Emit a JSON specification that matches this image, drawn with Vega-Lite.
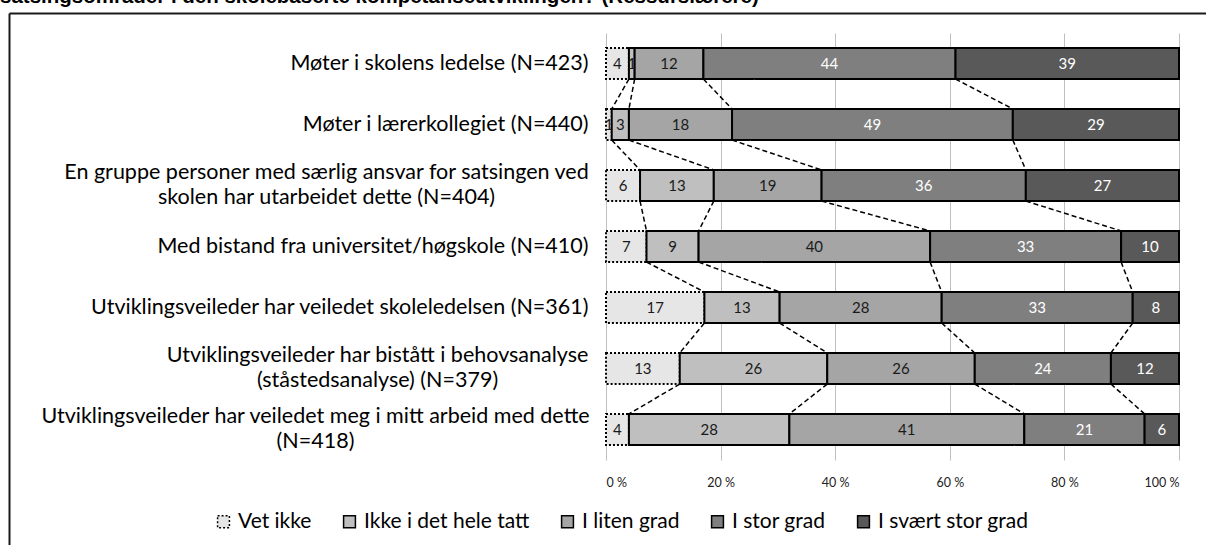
{
  "$schema": "https://vega.github.io/schema/vega-lite/v6.json",
  "autosize": {"type": "none"},
  "width": 573,
  "height": 427,
  "padding": {"left": 606, "top": 33, "right": 27, "bottom": 85},
  "background": "white",
  "title": {
    "text": "satsingsområder i den skolebaserte kompetanseutviklingen? (Ressurslærere)",
    "anchor": "start",
    "frame": "group",
    "dx": -606,
    "offset": 3,
    "font": "Liberation Sans",
    "fontSize": 20.5,
    "fontWeight": "bold",
    "color": "black"
  },
  "config": {
    "view": {"stroke": null},
    "font": "Lato"
  },
  "data": {
    "values": [
      {"question": "Møter i skolens ledelse (N=423)", "qi": 0, "category": "Vet ikke", "ci": 0, "value": 4},
      {"question": "Møter i skolens ledelse (N=423)", "qi": 0, "category": "Ikke i det hele tatt", "ci": 1, "value": 1},
      {"question": "Møter i skolens ledelse (N=423)", "qi": 0, "category": "I liten grad", "ci": 2, "value": 12},
      {"question": "Møter i skolens ledelse (N=423)", "qi": 0, "category": "I stor grad", "ci": 3, "value": 44},
      {"question": "Møter i skolens ledelse (N=423)", "qi": 0, "category": "I svært stor grad", "ci": 4, "value": 39},
      {"question": "Møter i lærerkollegiet (N=440)", "qi": 1, "category": "Vet ikke", "ci": 0, "value": 1},
      {"question": "Møter i lærerkollegiet (N=440)", "qi": 1, "category": "Ikke i det hele tatt", "ci": 1, "value": 3},
      {"question": "Møter i lærerkollegiet (N=440)", "qi": 1, "category": "I liten grad", "ci": 2, "value": 18},
      {"question": "Møter i lærerkollegiet (N=440)", "qi": 1, "category": "I stor grad", "ci": 3, "value": 49},
      {"question": "Møter i lærerkollegiet (N=440)", "qi": 1, "category": "I svært stor grad", "ci": 4, "value": 29},
      {"question": "En gruppe personer med særlig ansvar for satsingen ved\nskolen har utarbeidet dette (N=404)", "qi": 2, "category": "Vet ikke", "ci": 0, "value": 6},
      {"question": "En gruppe personer med særlig ansvar for satsingen ved\nskolen har utarbeidet dette (N=404)", "qi": 2, "category": "Ikke i det hele tatt", "ci": 1, "value": 13},
      {"question": "En gruppe personer med særlig ansvar for satsingen ved\nskolen har utarbeidet dette (N=404)", "qi": 2, "category": "I liten grad", "ci": 2, "value": 19},
      {"question": "En gruppe personer med særlig ansvar for satsingen ved\nskolen har utarbeidet dette (N=404)", "qi": 2, "category": "I stor grad", "ci": 3, "value": 36},
      {"question": "En gruppe personer med særlig ansvar for satsingen ved\nskolen har utarbeidet dette (N=404)", "qi": 2, "category": "I svært stor grad", "ci": 4, "value": 27},
      {"question": "Med bistand fra universitet/høgskole (N=410)", "qi": 3, "category": "Vet ikke", "ci": 0, "value": 7},
      {"question": "Med bistand fra universitet/høgskole (N=410)", "qi": 3, "category": "Ikke i det hele tatt", "ci": 1, "value": 9},
      {"question": "Med bistand fra universitet/høgskole (N=410)", "qi": 3, "category": "I liten grad", "ci": 2, "value": 40},
      {"question": "Med bistand fra universitet/høgskole (N=410)", "qi": 3, "category": "I stor grad", "ci": 3, "value": 33},
      {"question": "Med bistand fra universitet/høgskole (N=410)", "qi": 3, "category": "I svært stor grad", "ci": 4, "value": 10},
      {"question": "Utviklingsveileder har veiledet skoleledelsen (N=361)", "qi": 4, "category": "Vet ikke", "ci": 0, "value": 17},
      {"question": "Utviklingsveileder har veiledet skoleledelsen (N=361)", "qi": 4, "category": "Ikke i det hele tatt", "ci": 1, "value": 13},
      {"question": "Utviklingsveileder har veiledet skoleledelsen (N=361)", "qi": 4, "category": "I liten grad", "ci": 2, "value": 28},
      {"question": "Utviklingsveileder har veiledet skoleledelsen (N=361)", "qi": 4, "category": "I stor grad", "ci": 3, "value": 33},
      {"question": "Utviklingsveileder har veiledet skoleledelsen (N=361)", "qi": 4, "category": "I svært stor grad", "ci": 4, "value": 8},
      {"question": "Utviklingsveileder har bistått i behovsanalyse\n(ståstedsanalyse) (N=379)", "qi": 5, "category": "Vet ikke", "ci": 0, "value": 13},
      {"question": "Utviklingsveileder har bistått i behovsanalyse\n(ståstedsanalyse) (N=379)", "qi": 5, "category": "Ikke i det hele tatt", "ci": 1, "value": 26},
      {"question": "Utviklingsveileder har bistått i behovsanalyse\n(ståstedsanalyse) (N=379)", "qi": 5, "category": "I liten grad", "ci": 2, "value": 26},
      {"question": "Utviklingsveileder har bistått i behovsanalyse\n(ståstedsanalyse) (N=379)", "qi": 5, "category": "I stor grad", "ci": 3, "value": 24},
      {"question": "Utviklingsveileder har bistått i behovsanalyse\n(ståstedsanalyse) (N=379)", "qi": 5, "category": "I svært stor grad", "ci": 4, "value": 12},
      {"question": "Utviklingsveileder har veiledet meg i mitt arbeid med dette\n(N=418)", "qi": 6, "category": "Vet ikke", "ci": 0, "value": 4},
      {"question": "Utviklingsveileder har veiledet meg i mitt arbeid med dette\n(N=418)", "qi": 6, "category": "Ikke i det hele tatt", "ci": 1, "value": 28},
      {"question": "Utviklingsveileder har veiledet meg i mitt arbeid med dette\n(N=418)", "qi": 6, "category": "I liten grad", "ci": 2, "value": 41},
      {"question": "Utviklingsveileder har veiledet meg i mitt arbeid med dette\n(N=418)", "qi": 6, "category": "I stor grad", "ci": 3, "value": 21},
      {"question": "Utviklingsveileder har veiledet meg i mitt arbeid med dette\n(N=418)", "qi": 6, "category": "I svært stor grad", "ci": 4, "value": 6}
    ]
  },
  "layer": [
    {
      "transform": [
        {"window": [{"op": "sum", "field": "value", "as": "cum"}], "groupby": ["question"], "sort": [{"field": "ci"}], "frame": [null, 0]},
        {"joinaggregate": [{"op": "sum", "field": "value", "as": "tot"}], "groupby": ["question"]},
        {"calculate": "(datum.cum - datum.value) / datum.tot", "as": "xs"},
        {"calculate": "datum.cum / datum.tot", "as": "xe"},
        {"calculate": "(datum.xs + datum.xe) / 2", "as": "xm"}
      ],
      "encoding": {
        "y": {
          "field": "question",
          "type": "nominal",
          "scale": {
            "type": "band",
            "domain": [
              "Møter i skolens ledelse (N=423)",
              "Møter i lærerkollegiet (N=440)",
              "En gruppe personer med særlig ansvar for satsingen ved\nskolen har utarbeidet dette (N=404)",
              "Med bistand fra universitet/høgskole (N=410)",
              "Utviklingsveileder har veiledet skoleledelsen (N=361)",
              "Utviklingsveileder har bistått i behovsanalyse\n(ståstedsanalyse) (N=379)",
              "Utviklingsveileder har veiledet meg i mitt arbeid med dette\n(N=418)"
            ],
            "paddingInner": 0.49,
            "paddingOuter": 0.245
          },
          "axis": {
            "title": null,
            "domain": false,
            "ticks": false,
            "grid": false,
            "labelExpr": "split(datum.label, '\\n')",
            "labelFont": "Lato",
            "labelFontSize": 21.5,
            "labelColor": "black",
            "labelLineHeight": 25,
            "labelLimit": 0,
            "labelBaseline": "middle",
            "labelAlign": {
              "condition": {"test": "indexof(datum.value, '\\n') >= 0", "value": "center"},
              "value": "right"
            },
            "labelOffset": {
              "condition": {"test": "indexof(datum.value, '\\n') >= 0", "value": -13},
              "value": 0
            },
            "labelPadding": {
              "condition": [
                {"test": "indexof(datum.value, 'En gruppe') >= 0", "value": 280},
                {"test": "indexof(datum.value, 'behovsanalyse') >= 0", "value": 229},
                {"test": "indexof(datum.value, 'mitt arbeid') >= 0", "value": 291}
              ],
              "value": 18
            }
          }
        }
      },
      "layer": [
        {
          "mark": {"type": "bar", "stroke": "black", "strokeWidth": 2},
          "encoding": {
            "x": {
              "field": "xs",
              "type": "quantitative",
              "scale": {"domain": [0, 1], "nice": false},
              "axis": {
                "title": null,
                "orient": "bottom",
                "values": [0, 0.2, 0.4, 0.6, 0.8, 1],
                "labelExpr": "round(datum.value * 100) + ' %'",
                "grid": true,
                "gridColor": "#bfbfbf",
                "gridWidth": 1,
                "domain": false,
                "ticks": false,
                "labelPadding": 16,
                "labelFont": "Lato",
                "labelFontSize": 12.5,
                "labelColor": "#222222"
              }
            },
            "x2": {"field": "xe"},
            "color": {
              "field": "category",
              "type": "nominal",
              "scale": {
                "domain": ["Vet ikke", "Ikke i det hele tatt", "I liten grad", "I stor grad", "I svært stor grad"],
                "range": ["#e6e6e6", "#bfbfbf", "#a5a5a5", "#7f7f7f", "#595959"]
              },
              "legend": {
                "title": null,
                "orient": "none",
                "direction": "horizontal",
                "legendX": -393,
                "legendY": 478,
                "symbolType": "square",
                "symbolSize": 140,
                "symbolStrokeColor": "black",
                "symbolStrokeWidth": 1.5,
                "symbolOpacity": 1,
                "labelFont": "Lato",
                "labelFontSize": 21,
                "labelColor": "black",
                "labelOffset": 4,
                "columnPadding": 27,
                "labelLimit": 0
              }
            },
            "strokeDash": {
              "field": "category",
              "type": "nominal",
              "scale": {
                "domain": ["Vet ikke", "Ikke i det hele tatt", "I liten grad", "I stor grad", "I svært stor grad"],
                "range": [[2, 2], [1, 0], [1, 0], [1, 0], [1, 0]]
              },
              "legend": null
            }
          }
        },
        {
          "transform": [
            {"window": [{"op": "lead", "field": "xe", "as": "xn"}, {"op": "lead", "field": "question", "as": "qn"}], "groupby": ["ci"], "sort": [{"field": "qi"}]},
            {"filter": "datum.ci < 4 && datum.qi < 6"}
          ],
          "mark": {"type": "rule", "color": "black", "strokeWidth": 1.5, "strokeDash": [5, 3]},
          "encoding": {
            "x": {"field": "xe", "type": "quantitative"},
            "x2": {"field": "xn"},
            "y": {"field": "question", "type": "nominal", "bandPosition": 1},
            "y2": {"field": "qn", "bandPosition": 0}
          }
        },
        {
          "mark": {"type": "text", "font": "Lato", "fontSize": 15, "baseline": "middle", "align": "center"},
          "encoding": {
            "x": {"field": "xm", "type": "quantitative"},
            "text": {"field": "value", "type": "quantitative"},
            "color": {
              "condition": {"test": "datum.ci >= 3", "value": "white"},
              "value": "#1a1a1a"
            }
          }
        }
      ]
    },
    {
      "data": {"values": [{"frame": 0}]},
      "mark": {"type": "point", "opacity": 0},
      "encoding": {
        "x": {
          "field": "frame",
          "type": "quantitative",
          "scale": {"domain": [0, 1], "range": [-597, 700]},
          "axis": {"orient": "top", "offset": 20, "title": null, "labels": false, "ticks": false, "grid": false, "domain": true, "domainColor": "#1a1a1a", "domainWidth": 2}
        },
        "y": {
          "field": "frame",
          "type": "quantitative",
          "scale": {"domain": [0, 1], "range": [-20, 600]},
          "axis": {"orient": "left", "offset": 597, "title": null, "labels": false, "ticks": false, "grid": false, "domain": true, "domainColor": "#1a1a1a", "domainWidth": 2}
        }
      }
    }
  ],
  "resolve": {
    "scale": {"x": "independent", "y": "independent"},
    "axis": {"x": "independent", "y": "independent"}
  }
}
